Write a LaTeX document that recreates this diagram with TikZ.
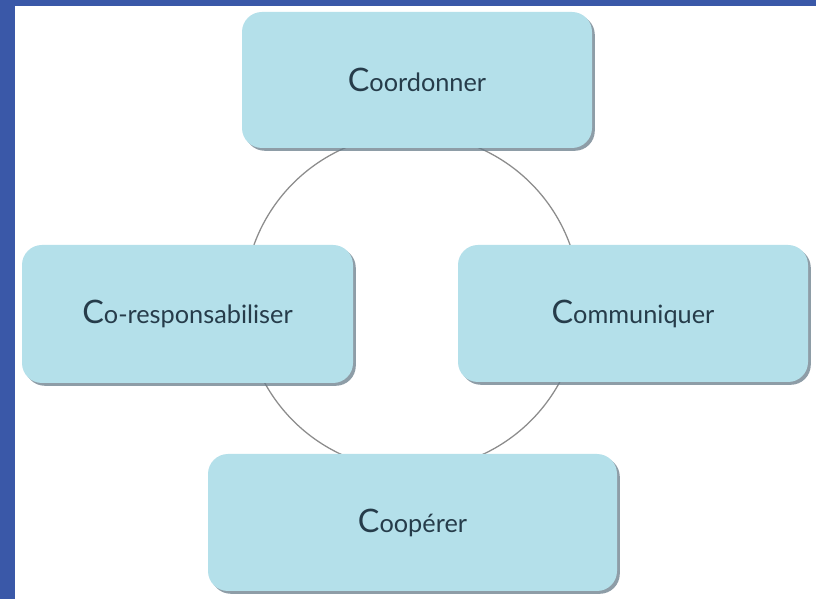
\documentclass[tikz,border=0pt]{standalone}
\usepackage{fontspec}
\setmainfont{Lato}
\usetikzlibrary{shadows}
\definecolor{frameblue}{RGB}{58,88,168}
\definecolor{boxfill}{RGB}{180,224,234}
\definecolor{boxshadow}{RGB}{105,125,138}
\definecolor{ringgray}{RGB}{140,140,140}
\definecolor{labeltext}{RGB}{38,60,74}
\tikzstyle{pillar} = [rectangle, rounded corners=0.5cm, inner sep=0pt,
    fill=boxfill, text=labeltext, font=\fontsize{18}{20}\selectfont,
    drop shadow={shadow xshift=0.07cm, shadow yshift=-0.07cm,
        fill=boxshadow, opacity=0.75}]
\tikzstyle{ring} = [draw=ringgray, line width=0.9pt]
\newcommand{\initC}{{\fontsize{23}{23}\selectfont C}}

\begin{document}
\begin{tikzpicture}
            \useasboundingbox (0, 0) rectangle (20.4, 14.975);
            \fill[white] (0, 0) rectangle (20.4, 14.975);
            \fill[frameblue] (0, 0) rectangle (0.375, 14.975);
            \fill[frameblue] (0, 14.825) rectangle (20.4, 14.975);

            \coordinate (hub) at (10.3, 7.425);
            \draw[ring] (hub) circle (4.2);

            \node[pillar, minimum width=8.75cm, minimum height=3.4cm]
                (coord) at (10.425, 12.975) {\initC oordonner};
            \node[pillar, minimum width=8.275cm, minimum height=3.45cm]
                (coresp) at (4.6875, 7.125) {\initC o-responsabiliser};
            \node[pillar, minimum width=8.75cm, minimum height=3.425cm]
                (commun) at (15.825, 7.1375) {\initC ommuniquer};
            \node[pillar, minimum width=10.225cm, minimum height=3.425cm]
                (coop) at (10.3125, 1.9125) {\initC oopérer};
        \end{tikzpicture}
\end{document}
